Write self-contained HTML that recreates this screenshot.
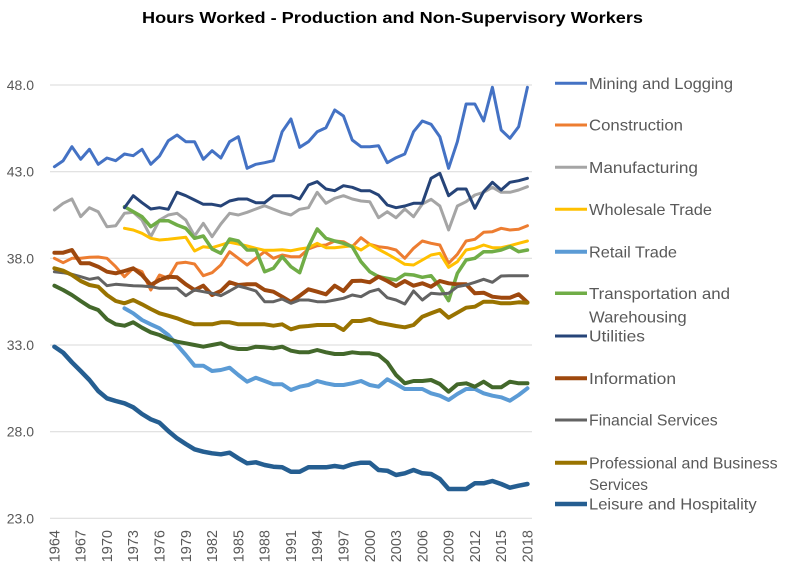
<!DOCTYPE html>
<html><head><meta charset="utf-8"><style>
html,body{margin:0;padding:0;background:#fff;}
svg{display:block;}
text{font-family:"Liberation Sans",Arial,sans-serif;}
.ser{fill:none;stroke-linejoin:round;stroke-linecap:round;vector-effect:non-scaling-stroke;}
</style></head><body>
<svg width="785" height="568" viewBox="0 0 785 568" xmlns="http://www.w3.org/2000/svg">
<rect width="785" height="568" fill="#fff"/>
<text x="392.5" y="23" text-anchor="middle" font-size="16" font-weight="bold" fill="#000" textLength="501" lengthAdjust="spacingAndGlyphs">Hours Worked - Production and Non-Supervisory Workers</text>
<g stroke="#D9D9D9" stroke-width="1">
<line x1="50" y1="85" x2="532" y2="85"/>
<line x1="50" y1="171.7" x2="532" y2="171.7"/>
<line x1="50" y1="258.3" x2="532" y2="258.3"/>
<line x1="50" y1="345" x2="532" y2="345"/>
<line x1="50" y1="431.7" x2="532" y2="431.7"/>
<line x1="50" y1="518.3" x2="532" y2="518.3"/>
</g>
<g font-size="14" fill="#595959" text-anchor="end">
<text x="34" y="90">48.0</text>
<text x="34" y="176.7">43.0</text>
<text x="34" y="263.3">38.0</text>
<text x="34" y="350">33.0</text>
<text x="34" y="436.7">28.0</text>
<text x="34" y="523.3">23.0</text>
</g>
<g font-size="14.5" fill="#595959" text-anchor="end">
<text transform="translate(59.4,530) rotate(-90)">1964</text>
<text transform="translate(85.7,530) rotate(-90)">1967</text>
<text transform="translate(112,530) rotate(-90)">1970</text>
<text transform="translate(138.2,530) rotate(-90)">1973</text>
<text transform="translate(164.5,530) rotate(-90)">1976</text>
<text transform="translate(190.8,530) rotate(-90)">1979</text>
<text transform="translate(217.1,530) rotate(-90)">1982</text>
<text transform="translate(243.4,530) rotate(-90)">1985</text>
<text transform="translate(269.6,530) rotate(-90)">1988</text>
<text transform="translate(295.9,530) rotate(-90)">1991</text>
<text transform="translate(322.2,530) rotate(-90)">1994</text>
<text transform="translate(348.5,530) rotate(-90)">1997</text>
<text transform="translate(374.8,530) rotate(-90)">2000</text>
<text transform="translate(401,530) rotate(-90)">2003</text>
<text transform="translate(427.3,530) rotate(-90)">2006</text>
<text transform="translate(453.6,530) rotate(-90)">2009</text>
<text transform="translate(479.9,530) rotate(-90)">2012</text>
<text transform="translate(506.2,530) rotate(-90)">2015</text>
<text transform="translate(532.4,530) rotate(-90)">2018</text>
</g>
<g transform="translate(54.4,0) scale(8.76,1)">
<polyline class="ser" stroke="#4472C4" stroke-width="3" points="0,166.7 1,160.7 2,146.7 3,159.3 4,149.3 5,164.3 6,158 7,160.7 8,154 9,155.7 10,149.3 11,164.3 12,156 13,140.7 14,135 15,141.7 16,141.7 17,159.3 18,150.7 19,158 20,141.7 21,136.7 22,168.3 23,164.3 24,162.7 25,160.7 26,131.7 27,119 28,147.3 29,141.7 30,131.7 31,127.7 32,110 33,116 34,140 35,146.7 36,146.7 37,145.7 38,162.7 39,157.7 40,154 41,131.7 42,121 43,124.3 44,136.7 45,168.3 46,141.7 47,104 48,104 49,121 50,87.3 51,130 52,138.3 53,126.7 54,87.3"/>
<polyline class="ser" stroke="#ED7D31" stroke-width="3" points="0,258.3 1,262.7 2,258.3 3,258.3 4,257.3 5,257 6,258.3 7,266.7 8,276.7 9,268.3 10,271.7 11,290 12,275 13,278.3 14,263.3 15,262.3 16,264 17,275.7 18,272.7 19,265 20,251.7 21,258.3 22,265 23,258.3 24,251.7 25,258.3 26,255 27,256.7 28,256.7 29,249 30,245.7 31,245 32,241 33,241.7 34,246.7 35,237.7 36,244.3 37,246.7 38,247.7 39,250 40,258.3 41,248.3 42,241 43,243.3 44,245 45,263.3 46,254.3 47,241 48,239.3 49,232.3 50,231.7 51,228.3 52,230 53,229.3 54,225.7"/>
<polyline class="ser" stroke="#A5A5A5" stroke-width="3" points="0,210 1,203.3 2,199 3,216.7 4,207.7 5,211.7 6,226.7 7,225.7 8,213.3 9,212.3 10,220 11,236.7 12,220 13,215 14,213.3 15,220 16,236 17,223.3 18,236.7 19,224 20,213.3 21,215 22,212.3 23,209 24,205.7 25,209.3 26,212.7 27,215 28,209.3 29,207.7 30,192.3 31,203.3 32,198.3 33,195.7 34,199 35,201 36,201.7 37,217.7 38,211.7 39,217.7 40,209 41,216.7 42,204 43,199.3 44,206 45,230 46,206 47,201.7 48,195 49,192.3 50,187.3 51,192.3 52,192.3 53,190 54,186.7"/>
<polyline class="ser" stroke="#FFC000" stroke-width="3" points="8,228.3 9,230 10,233.3 11,238.3 12,240 13,239.3 14,238.3 15,237.3 16,251 17,246.7 18,247.7 19,245 20,242.3 21,244 22,246 23,248.3 24,250.3 25,250.3 26,249.7 27,250.7 28,249 29,247.7 30,243.3 31,247.7 32,247.7 33,246.7 34,245.7 35,250 36,244.3 37,249.3 38,254 39,259 40,264.3 41,265 42,260 43,255 44,253.3 45,267.3 46,261.7 47,250 48,248.3 49,245 50,247.7 51,247.7 52,245.7 53,243.3 54,241"/>
<polyline class="ser" stroke="#5B9BD5" stroke-width="4" points="8,308.3 9,313.3 10,320 11,324.3 12,328.3 13,335 14,345 15,355 16,365.7 17,365.7 18,371 19,370 20,367.7 21,375 22,381.7 23,377.7 24,381 25,384.3 26,384.3 27,390 28,386.7 29,385 30,381 31,383.3 32,385 33,385 34,383.3 35,381 36,385 37,386.7 38,379.3 39,384 40,389 41,389 42,389 43,393.3 44,395.7 45,400 46,394 47,389 48,389 49,393.3 50,395.7 51,397.3 52,400.7 53,395 54,388.3"/>
<polyline class="ser" stroke="#70AD47" stroke-width="3.5" points="8,206.7 9,211.7 10,216.7 11,226.7 12,220.7 13,220.7 14,225 15,228.3 16,238.3 17,236 18,249 19,253.3 20,239 21,241 22,250 23,250 24,271.7 25,268.3 26,256.7 27,266.7 28,272.7 29,246.7 30,229 31,238.3 32,241 33,243.3 34,246.7 35,261.7 36,271.7 37,276.7 38,278.3 39,280 40,274.3 41,275 42,277.3 43,275.7 44,286.7 45,300.7 46,273.3 47,260 48,258.3 49,251.7 50,251.7 51,250 52,246.7 53,251.7 54,250"/>
<polyline class="ser" stroke="#264478" stroke-width="3" points="8,207.7 9,195.7 10,202.7 11,209 12,207.7 13,209.3 14,192.3 15,195.7 16,200 17,204.3 18,204.3 19,206 20,201 21,199 22,199 23,202.7 24,202.7 25,195.7 26,195.7 27,195.7 28,199 29,185 30,181.7 31,189 32,190.7 33,185.7 34,187.3 35,190.7 36,190.7 37,195 38,205 39,207.7 40,206 41,203.3 42,203.3 43,178.3 44,173.3 45,195.7 46,189 47,189 48,208.3 49,191.7 50,182.3 51,190 52,182.3 53,180.7 54,178.3"/>
<polyline class="ser" stroke="#9E480E" stroke-width="4" points="0,252.7 1,252.7 2,250 3,263.3 4,263.3 5,266.7 6,271.7 7,273.3 8,271 9,268.3 10,275 11,285 12,280 13,276.7 14,277.3 15,284.3 16,290 17,285.7 18,295 19,291 20,282.3 21,285 22,284.3 23,284.3 24,290 25,291.7 26,296.7 27,302 28,295.7 29,289.3 30,291.7 31,294.3 32,285.7 33,291 34,281 35,280.7 36,282.3 37,276.7 38,281 39,286 40,281 41,285.7 42,283.3 43,286.7 44,281 45,283.3 46,284.3 47,284.3 48,293.3 49,292.7 50,296.7 51,297.7 52,297.7 53,294.3 54,302.3"/>
<polyline class="ser" stroke="#636363" stroke-width="3" points="0,271.7 1,272.7 2,274.3 3,276.7 4,279.3 5,277.7 6,285.7 7,284.3 8,285 9,285.7 10,286 11,286.7 12,288.3 13,288.3 14,288.3 15,295.7 16,290 17,291.7 18,293.3 19,295.7 20,291 21,286 22,288.3 23,291 24,301.7 25,301.7 26,299 27,303.3 28,300 29,300 30,301.7 31,301.7 32,300 33,298.3 34,295 35,296.7 36,291.7 37,289.3 38,297.7 39,300 40,304 41,291 42,300 43,293.3 44,294 45,293.3 46,286.7 47,285 48,282.3 49,279.3 50,282.3 51,276 52,275.7 53,275.7 54,275.7"/>
<polyline class="ser" stroke="#997300" stroke-width="4" points="0,268.3 1,270.7 2,275 3,281 4,285 5,286.7 6,295 7,301 8,303.3 9,300 10,304.3 11,309 12,313.3 13,315.7 14,318.3 15,321.7 16,324.3 17,324.3 18,324.3 19,322.3 20,322.3 21,324.3 22,324.3 23,324.3 24,324.3 25,325.7 26,324.3 27,329.3 28,326.7 29,326 30,325 31,325 32,325 33,330 34,321 35,321 36,319 37,322.7 38,324.3 39,326 40,327.3 41,325 42,316.7 43,313.3 44,310 45,317.7 46,312.7 47,307.7 48,306.7 49,301.7 50,301.7 51,303.3 52,303.3 53,302.3 54,302.7"/>
<polyline class="ser" stroke="#255E91" stroke-width="4.5" points="0,346.7 1,352.7 2,362.3 3,371 4,380 5,391 6,398.3 7,401 8,403.3 9,407.3 10,414 11,419.3 12,422.7 13,431 14,438.3 15,444 16,449.3 17,451.7 18,453.3 19,454.3 20,452.7 21,458.3 22,463.3 23,462.3 24,465 25,466.7 26,467.3 27,471.7 28,471.7 29,467.3 30,467.3 31,467.3 32,466 33,467.3 34,464.3 35,462.7 36,462.7 37,470 38,470.7 39,475 40,473.3 41,470 42,473.3 43,474 44,479 45,489 46,489 47,489 48,483.3 49,483.3 50,481 51,484 52,487.7 53,485.7 54,484"/>
<polyline class="ser" stroke="#43682B" stroke-width="4" points="0,285.7 1,290 2,295 3,301 4,306.7 5,310 6,319.3 7,324.3 8,325.7 9,322.3 10,327.7 11,332.3 12,335 13,339 14,341.7 15,343.3 16,345 17,346.7 18,345 19,343.3 20,347.3 21,349 22,349 23,346.7 24,347.3 25,348.3 26,346.7 27,350.7 28,352.3 29,352.3 30,350 31,352.3 32,354 33,354 34,352.3 35,353.3 36,353.3 37,355 38,362.3 39,375 40,383.3 41,381 42,381 43,380 44,384 45,391.7 46,384.3 47,383.3 48,386.7 49,381.7 50,387.3 51,387.3 52,381.7 53,383.3 54,383.3"/>
</g>
<g stroke-linecap="butt">
<line x1="555" y1="83.3" x2="587" y2="83.3" stroke="#4472C4" stroke-width="3"/>
<line x1="555" y1="125" x2="587" y2="125" stroke="#ED7D31" stroke-width="3"/>
<line x1="555" y1="167.3" x2="587" y2="167.3" stroke="#A5A5A5" stroke-width="3"/>
<line x1="555" y1="209.3" x2="587" y2="209.3" stroke="#FFC000" stroke-width="3"/>
<line x1="555" y1="251.7" x2="587" y2="251.7" stroke="#5B9BD5" stroke-width="4"/>
<line x1="555" y1="293.3" x2="587" y2="293.3" stroke="#70AD47" stroke-width="3.5"/>
<line x1="555" y1="336" x2="587" y2="336" stroke="#264478" stroke-width="3"/>
<line x1="555" y1="378.3" x2="587" y2="378.3" stroke="#9E480E" stroke-width="4"/>
<line x1="555" y1="420" x2="587" y2="420" stroke="#636363" stroke-width="3"/>
<line x1="555" y1="462.7" x2="587" y2="462.7" stroke="#997300" stroke-width="4"/>
<line x1="555" y1="504" x2="587" y2="504" stroke="#255E91" stroke-width="4.5"/>
</g>
<g font-size="16" fill="#595959">
<text x="589" y="89" textLength="144" lengthAdjust="spacingAndGlyphs">Mining and Logging</text>
<text x="589" y="130.7" textLength="94" lengthAdjust="spacingAndGlyphs">Construction</text>
<text x="589" y="173" textLength="109" lengthAdjust="spacingAndGlyphs">Manufacturing</text>
<text x="589" y="215" textLength="123" lengthAdjust="spacingAndGlyphs">Wholesale Trade</text>
<text x="589" y="257.4" textLength="88" lengthAdjust="spacingAndGlyphs">Retail Trade</text>
<text x="589" y="299" textLength="141" lengthAdjust="spacingAndGlyphs">Transportation and</text>
<text x="589" y="322.4" textLength="97.7" lengthAdjust="spacingAndGlyphs">Warehousing</text>
<text x="589" y="341.7" textLength="56" lengthAdjust="spacingAndGlyphs">Utilities</text>
<text x="589" y="384" textLength="87" lengthAdjust="spacingAndGlyphs">Information</text>
<text x="589" y="425.7" textLength="128.7" lengthAdjust="spacingAndGlyphs">Financial Services</text>
<text x="589" y="468.4" textLength="188.7" lengthAdjust="spacingAndGlyphs">Professional and Business</text>
<text x="589" y="490" textLength="59" lengthAdjust="spacingAndGlyphs">Services</text>
<text x="589" y="509.7" textLength="167.7" lengthAdjust="spacingAndGlyphs">Leisure and Hospitality</text>
</g>
</svg>
</body></html>
